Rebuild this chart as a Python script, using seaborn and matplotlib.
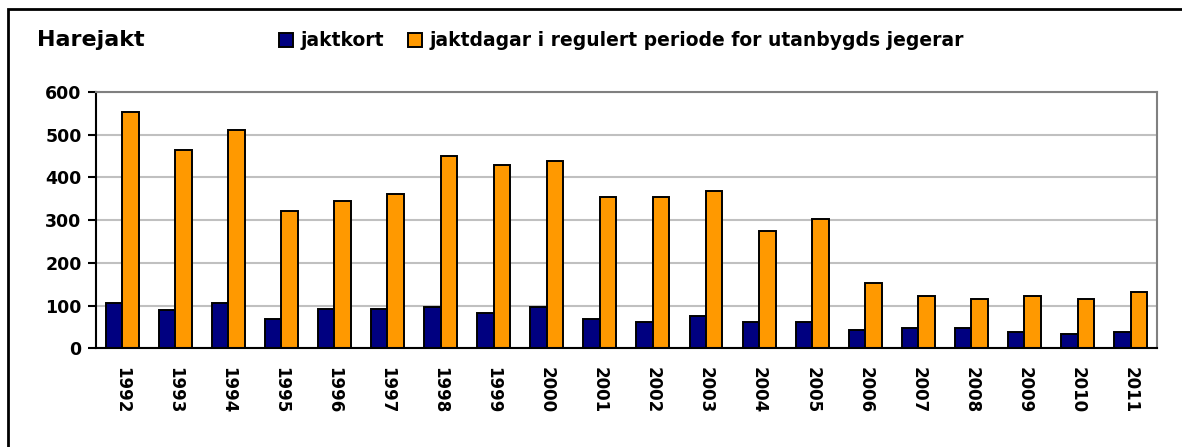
import seaborn as sns
import pandas as pd
import numpy as np
import matplotlib.pyplot as plt
from matplotlib.patches import Rectangle, Patch

years = ['1992', '1993', '1994', '1995', '1996', '1997', '1998', '1999', '2000', '2001',
         '2002', '2003', '2004', '2005', '2006', '2007', '2008', '2009', '2010', '2011']
jaktkort = [107, 89, 107, 70, 93, 93, 97, 84, 97, 70,
            61, 75, 61, 61, 43, 47, 47, 38, 33, 38]
jaktdagar = [553, 464, 511, 321, 344, 362, 450, 428, 438, 354,
             354, 368, 274, 302, 154, 122, 116, 122, 116, 131]
series = ['jaktkort', 'jaktdagar i regulert periode for utanbygds jegerar']
colors = ['#000080', '#FF9900']

df = pd.DataFrame({
    'year': years * 2,
    'value': jaktkort + jaktdagar,
    'series': [series[0]] * len(years) + [series[1]] * len(years),
})

sns.set_style('white')
plt.rcParams['font.family'] = ['DejaVu Sans']
plt.rcParams['font.weight'] = 'bold'
plt.rcParams['text.color'] = 'black'
plt.rcParams['xtick.color'] = 'black'
plt.rcParams['ytick.color'] = 'black'

fig = plt.figure(figsize=(11.82, 4.47), dpi=100)
ax = fig.add_axes([0.0808, 0.2204, 0.8982, 0.574])

sns.barplot(data=df, x='year', y='value', hue='series', palette=colors, saturation=1,
            width=0.62, edgecolor='black', linewidth=1.4, ax=ax)
ax.get_legend().remove()

ax.set_xlim(-0.5, len(years) - 0.5)
ax.set_ylim(0, 600)
ax.set_yticks(range(0, 601, 100))
ax.set_xlabel('')
ax.set_ylabel('')
ax.yaxis.grid(True, color='#c0c0c0', lw=1.5)
ax.set_axisbelow(True)

for s in ['top', 'right']:
    ax.spines[s].set_color('#808080')
    ax.spines[s].set_linewidth(1.5)
for s in ['left', 'bottom']:
    ax.spines[s].set_color('black')
    ax.spines[s].set_linewidth(1.5)

# ticks between the year groups, labels in the middle
ax.set_xticks(np.arange(len(years)))
ax.set_xticklabels(years, rotation=270, fontsize=12, fontweight='bold')
ax.set_xticks(np.arange(-0.5, len(years)), minor=True)
ax.tick_params(axis='x', which='major', length=0, pad=13)
ax.tick_params(axis='x', which='minor', length=6, width=1.5, direction='out', color='black')
ax.tick_params(axis='y', length=6, width=1.5, direction='out', color='black',
               labelsize=12.5, pad=4, left=True)
for lab in ax.get_yticklabels():
    lab.set_fontweight('bold')

fig.text(37 / 1182, 1 - 40 / 447, 'Harejakt', fontsize=16, fontweight='bold',
         va='center', ha='left')

handles = [Patch(facecolor=c, edgecolor='black', linewidth=1.4) for c in colors]
fig.legend(handles, series, loc='center left', bbox_to_anchor=(262 / 1182, 1 - 41 / 447),
           ncol=2, frameon=False, handlelength=0.75, handleheight=0.75, handletextpad=0.4,
           columnspacing=1.3, prop={'weight': 'bold', 'size': 13.5})

# outer frame of the chart object
fig.patches.append(Rectangle((8 / 1182, -0.1), 1.2, 1.1 - 9 / 447,
                             transform=fig.transFigure, fill=False,
                             edgecolor='black', linewidth=2))

fig.savefig('out.png', dpi=100)
